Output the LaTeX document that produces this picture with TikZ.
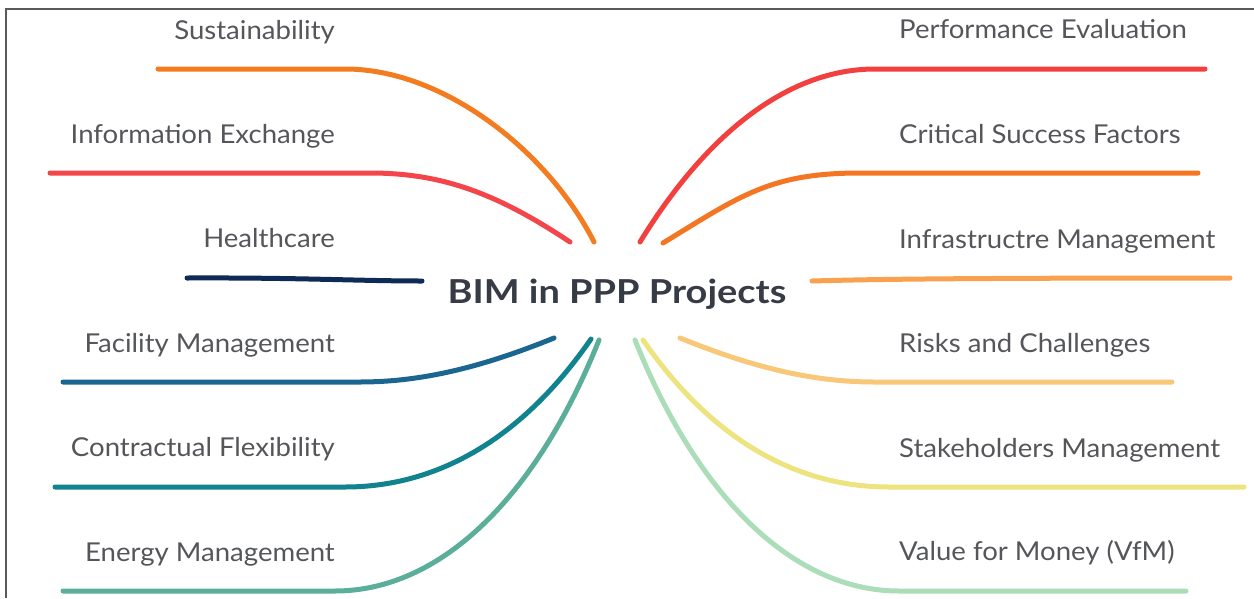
\documentclass[tikz,border=0pt]{standalone}
\usepackage{fontspec}
\setmainfont{Lato}
\newfontfamily\labelfont{Lato}[FakeStretch=1.06]
\newfontfamily\titlefont{Lato}[FakeStretch=1.15]
\definecolor{txtgray}{HTML}{55565A}
\definecolor{titlec}{HTML}{363B45}
\definecolor{framec}{HTML}{5A5A5A}
\definecolor{cSust}{HTML}{F47C20}
\definecolor{cInfo}{HTML}{F2464A}
\definecolor{cHealth}{HTML}{0E2A56}
\definecolor{cFac}{HTML}{1B6690}
\definecolor{cContr}{HTML}{11838F}
\definecolor{cEnergy}{HTML}{5BAE99}
\definecolor{cPerf}{HTML}{F2403F}
\definecolor{cCSF}{HTML}{F47522}
\definecolor{cInfra}{HTML}{F9A14E}
\definecolor{cRisk}{HTML}{F8C778}
\definecolor{cStake}{HTML}{EDE37F}
\definecolor{cVfM}{HTML}{ABDDB9}
\begin{document}
\begin{tikzpicture}[x=1pt,y=-1pt,
  lbl/.style={font=\labelfont\fontsize{26}{30}\selectfont, text=txtgray, inner sep=0pt},
  lblL/.style={lbl, anchor=base east},
  lblR/.style={lbl, anchor=base west},
  branch/.style={line width=5pt, line cap=round}]
\useasboundingbox (0,0) rectangle (1254,598);
% frame edges
\draw[framec, line width=1.4pt] (6,598) -- (6,9) -- (1254,9);

% central topic
\node[font=\titlefont\bfseries\fontsize{33}{38}\selectfont, text=titlec, anchor=base, inner sep=0pt]
  (root) at (617,303) {BIM in PPP Projects};

% left labels
\node[lblL] (sust)   at (335,39)  {Sustainability};
\node[lblL] (info)   at (335,143) {Information Exchange};
\node[lblL] (health) at (335,247) {Healthcare};
\node[lblL] (fac)    at (335,352) {Facility Management};
\node[lblL] (contr)  at (335,456) {Contractual Flexibility};
\node[lblL] (energy) at (335,561) {Energy Management};
% right labels
\node[lblR] (perf)   at (899,38)  {Performance Evaluation};
\node[lblR] (csf)    at (899,143) {Critical Success Factors};
\node[lblR] (infra)  at (899,248) {Infrastructre Management};
\node[lblR] (risk)   at (899,352) {Risks and Challenges};
\node[lblR] (stake)  at (899,457) {Stakeholders Management};
\node[lblR] (vfm)    at (899,560) {Value for Money (VfM)};

% branch anchor points: start near the topic, bend point, outer end
\coordinate (sSust) at (594,242);   \coordinate (hSust) at (345,69);   \coordinate (eSust) at (158,69);
\coordinate (sInfo) at (570,242);   \coordinate (hInfo) at (370,173);  \coordinate (eInfo) at (50,173);
\coordinate (sHea)  at (422,281);   \coordinate (eHea)  at (187,278);
\coordinate (sFac)  at (554,338);   \coordinate (hFac)  at (360,382);  \coordinate (eFac)  at (63,382);
\coordinate (sCon)  at (591,339);   \coordinate (hCon)  at (345,487);  \coordinate (eCon)  at (55,487);
\coordinate (sEne)  at (599,340);   \coordinate (hEne)  at (335,591);  \coordinate (eEne)  at (63,591);

\coordinate (sPerf) at (640,242);   \coordinate (hPerf) at (875,69);   \coordinate (ePerf) at (1205,69);
\coordinate (sCSF)  at (663,243);   \coordinate (hCSF)  at (860,173);  \coordinate (eCSF)  at (1198,173);
\coordinate (sInf)  at (812,281);   \coordinate (eInf)  at (1230,278);
\coordinate (sRis)  at (680,338);   \coordinate (hRis)  at (874,382);  \coordinate (eRis)  at (1172,382);
\coordinate (sSta)  at (643,340);   \coordinate (hSta)  at (889,487);  \coordinate (eSta)  at (1244,487);
\coordinate (sVfM)  at (635,340);   \coordinate (hVfM)  at (899,591);  \coordinate (eVfM)  at (1186,591);

% left branches
\draw[branch, cSust]   (sSust) .. controls (549,153) and (445,69)  .. (hSust) -- (eSust);
\draw[branch, cInfo]   (sInfo) .. controls (495,192) and (440,173) .. (hInfo) -- (eInfo);
\draw[branch, cHealth] (sHea)  .. controls (360,281) and (300,277.5) .. (eHea);
\draw[branch, cFac]    (sFac)  .. controls (480,368) and (420,382) .. (hFac)  -- (eFac);
\draw[branch, cContr]  (sCon)  .. controls (517,446) and (430,487) .. (hCon)  -- (eCon);
\draw[branch, cEnergy] (sEne)  .. controls (536,498) and (440,591) .. (hEne)  -- (eEne);

% right branches
\draw[branch, cPerf]   (sPerf) .. controls (708,131) and (790,69)  .. (hPerf) -- (ePerf);
\draw[branch, cCSF]    (sCSF)  .. controls (740,196) and (770,173) .. (hCSF)  -- (eCSF);
\draw[branch, cInfra]  (sInf)  .. controls (880,279) and (980,278) .. (eInf);
\draw[branch, cRisk]   (sRis)  .. controls (754,368) and (814,382) .. (hRis)  -- (eRis);
\draw[branch, cStake]  (sSta)  .. controls (717,447) and (804,487) .. (hSta)  -- (eSta);
\draw[branch, cVfM]    (sVfM)  .. controls (698,498) and (794,591) .. (hVfM)  -- (eVfM);
\end{tikzpicture}
\end{document}
